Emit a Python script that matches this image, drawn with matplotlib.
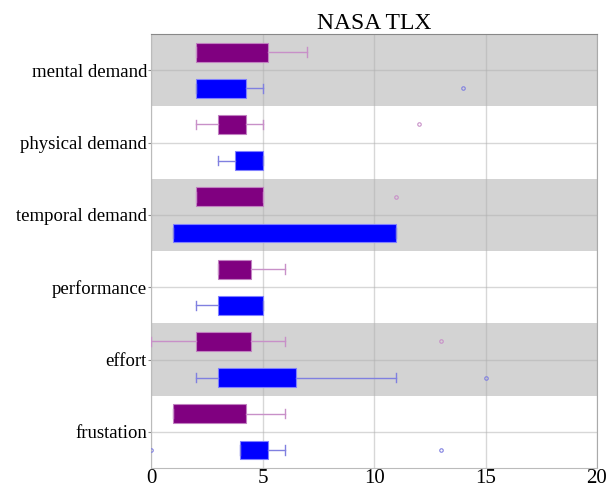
import matplotlib
matplotlib.use("Agg")
import matplotlib.pyplot as plt
import numpy as np

categorias = ["mental demand", "physical demand", "temporal demand",
              "performance", "effort", "frustation"]

# grupo 1 (morado)
q1_a = [2.0, 3.0, 2.0, 3.0, 2.0, 1.0]
q3_a = [5.25, 4.25, 5.0, 4.5, 4.5, 4.25]
lo_a = [2.0, 2.0, 2.0, 3.0, 0.0, 1.0]
hi_a = [7.0, 5.0, 5.0, 6.0, 6.0, 6.0]
out_a = [[], [12.0], [11.0], [], [13.0], []]

# grupo 2 (azul)
q1_b = [2.0, 3.75, 1.0, 3.0, 3.0, 4.0]
q3_b = [4.25, 5.0, 11.0, 5.0, 6.5, 5.25]
lo_b = [2.0, 3.0, 1.0, 2.0, 2.0, 4.0]
hi_b = [5.0, 5.0, 11.0, 5.0, 11.0, 6.0]
out_b = [[14.0], [], [], [], [15.0], [0.0, 13.0]]

plt.rcParams["font.family"] = ["Liberation Serif", "DejaVu Serif"]

fig = plt.figure(figsize=(6.07, 4.87), dpi=100)
ax = fig.add_axes([0.249, 0.039, 0.7345, 0.891])

n = len(categorias)
# bandas alternas
for i in range(n):
    if i % 2 == 0:
        ax.axhspan(i - 0.5, i + 0.5, color="#d3d3d3", zorder=0, lw=0)


def stats(q1, q3, lo, hi, out):
    return [dict(q1=a, q3=b, med=a, whislo=c, whishi=d, fliers=f)
            for a, b, c, d, f in zip(q1, q3, lo, hi, out)]


y = np.arange(n)
for st, off, fc, ec, wc in [(stats(q1_a, q3_a, lo_a, hi_a, out_a), -0.25, "#800080", "#c080c0", "#c890c8"),
                            (stats(q1_b, q3_b, lo_b, hi_b, out_b), 0.25, "#0000ff", "#8080ff", "#8080e0")]:
    ax.bxp(st, positions=y + off, widths=0.26, vert=False, patch_artist=True,
           showfliers=True, manage_ticks=False,
           boxprops=dict(facecolor=fc, edgecolor=ec, lw=0.8),
           whiskerprops=dict(color=wc, lw=1),
           capprops=dict(color=wc, lw=1),
           medianprops=dict(color=fc, lw=0),
           flierprops=dict(marker="o", markersize=2.5, markerfacecolor="none",
                           markeredgecolor=wc, markeredgewidth=0.8),
           zorder=3)

ax.set_xlim(0, 20)
ax.set_ylim(n - 0.5, -0.5)
ax.set_yticks(y)
ax.set_yticklabels(categorias, fontsize=13.5)
ax.set_xticks([0, 5, 10, 15, 20])
ax.tick_params(axis="x", labelsize=15, length=0, pad=1)
ax.tick_params(axis="y", length=2, color="#888888", pad=1)
ax.grid(True, color="#b0b0b0", alpha=0.5, lw=1, zorder=1)
ax.set_axisbelow(True)
for s in ax.spines.values():
    s.set_color("#bbbbbb")
ax.spines["top"].set_color("#888888")
ax.spines["right"].set_color("#aaaaaa")
ax.set_title("NASA TLX", fontsize=17, pad=2)

fig.savefig("out.png", dpi=100)
